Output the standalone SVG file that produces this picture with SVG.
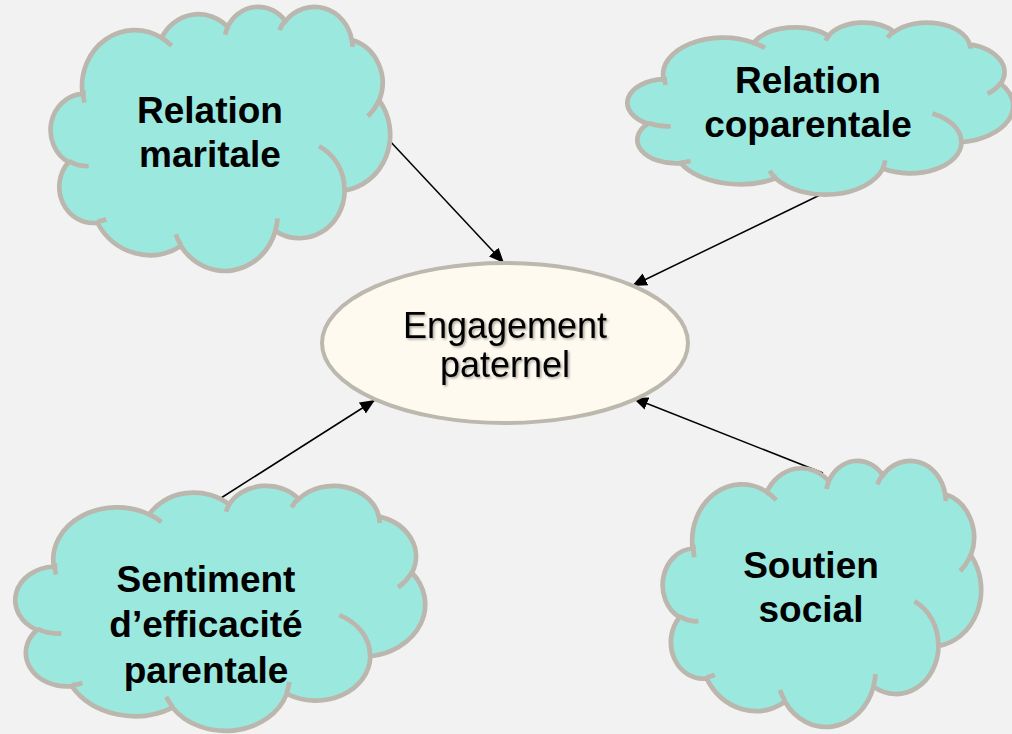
<svg xmlns="http://www.w3.org/2000/svg" xmlns:xlink="http://www.w3.org/1999/xlink" width="1012" height="734" viewBox="0 0 1012 734">
  <style>
    .cloud { fill: #9be8df; stroke: #bbb7ae; stroke-width: 4.7; }
    .cloudLine { fill: none; stroke: #bbb7ae; stroke-width: 4.7; }
    .label { font-family: "Liberation Sans", Arial, sans-serif; font-weight: bold; font-size: 37px; fill: #000; text-anchor: middle; }
    .center { font-family: "Liberation Sans", Arial, sans-serif; font-size: 36px; fill: #000; text-anchor: middle; }
    .conn { stroke: #000; stroke-width: 1.5; fill: none; }
  </style>
  <defs>
    <path id="cloudOuter" vector-effect="non-scaling-stroke" d="M3900 14370 A6753 9190 0 0 1 14005 5202 A5333 7267 0 0 1 22456 3432 A4365 5945 0 0 1 29833 2481 A4857 6595 0 0 1 38318 5576 A5333 7273 0 0 1 41819 15460 A6775 9220 0 0 1 37405 30203 A5785 7867 0 0 1 28556 36813 A6752 9215 0 0 1 16481 39264 A7720 10543 0 0 1 5805 35470 A4360 5918 0 0 1 2114 25548 A4345 5945 0 0 1 3900 14370 Z"/>
    <path id="cloudInner" vector-effect="non-scaling-stroke" d="M4693 26177 A4345 5945 0 0 1 2160 25380 M6928 34899 A4360 5918 0 0 1 5820 35281 M16478 39090 A6752 9215 0 0 1 15810 37350 M28827 34751 A6752 9215 0 0 1 28560 36660 M34129 22954 A5785 7867 0 0 1 37380 30090 M41798 15354 A5333 7273 0 0 1 40350 18030 M38324 5426 A4857 6595 0 0 1 38400 6690 M29078 3952 A4857 6595 0 0 1 29820 2340 M22141 4720 A4365 5945 0 0 1 22500 3330 M14000 5192 A6753 9190 0 0 1 15300 6541 M4127 15789 A6753 9190 0 0 1 3997 13756"/>
    <marker id="arrow" markerUnits="userSpaceOnUse" markerWidth="16" markerHeight="14" refX="15" refY="7" orient="auto">
      <path d="M0,0.5 L15,7 L0,13.5 Z" fill="#000"/>
    </marker>
    <filter id="shadow" x="-10%" y="-10%" width="120%" height="130%">
      <feDropShadow dx="1.5" dy="1.5" stdDeviation="1" flood-color="#000" flood-opacity="0.35"/>
    </filter>
  </defs>
  <rect x="0" y="0" width="1012" height="734" fill="#f2f2f2"/>

  <g id="connectors">
    <line class="conn" x1="388" y1="139" x2="504" y2="263" marker-end="url(#arrow)"/>
    <line class="conn" x1="822" y1="194" x2="632" y2="286" marker-end="url(#arrow)"/>
    <line class="conn" x1="221" y1="498" x2="375" y2="400" marker-end="url(#arrow)"/>
    <line class="conn" x1="823" y1="473" x2="633" y2="398" marker-end="url(#arrow)"/>
  </g>

  <g id="node-relation-maritale">
    <g transform="translate(52 6) scale(0.0078241 0.0061111)">
      <use xlink:href="#cloudOuter" class="cloud"/>
      <use xlink:href="#cloudInner" class="cloudLine"/>
    </g>
    <text class="label" x="210" y="123">Relation</text>
    <text class="label" x="210" y="167">maritale</text>
  </g>

  <g id="node-relation-coparentale">
    <g transform="translate(629 22) scale(0.0088889 0.0039815)">
      <use xlink:href="#cloudOuter" class="cloud"/>
      <use xlink:href="#cloudInner" class="cloudLine"/>
    </g>
    <text class="label" x="808" y="93">Relation</text>
    <text class="label" x="808" y="137">coparentale</text>
  </g>

  <g id="node-sentiment">
    <g transform="translate(17 485) scale(0.0094444 0.0056713)">
      <use xlink:href="#cloudOuter" class="cloud"/>
      <use xlink:href="#cloudInner" class="cloudLine"/>
    </g>
    <text class="label" x="206" y="592">Sentiment</text>
    <text class="label" x="206" y="637">d’efficacité</text>
    <text class="label" x="206" y="683">parentale</text>
  </g>

  <g id="node-soutien-social">
    <g transform="translate(664 460) scale(0.0073380 0.0061574)">
      <use xlink:href="#cloudOuter" class="cloud"/>
      <use xlink:href="#cloudInner" class="cloudLine"/>
    </g>
    <text class="label" x="811" y="578">Soutien</text>
    <text class="label" x="811" y="622">social</text>
  </g>

  <g id="node-engagement">
    <ellipse cx="505" cy="343" rx="183" ry="80" fill="#fefaef" stroke="#bcb8ae" stroke-width="4"/>
    <g filter="url(#shadow)">
      <text class="center" x="505" y="338">Engagement</text>
      <text class="center" x="505" y="377">paternel</text>
    </g>
  </g>
</svg>
